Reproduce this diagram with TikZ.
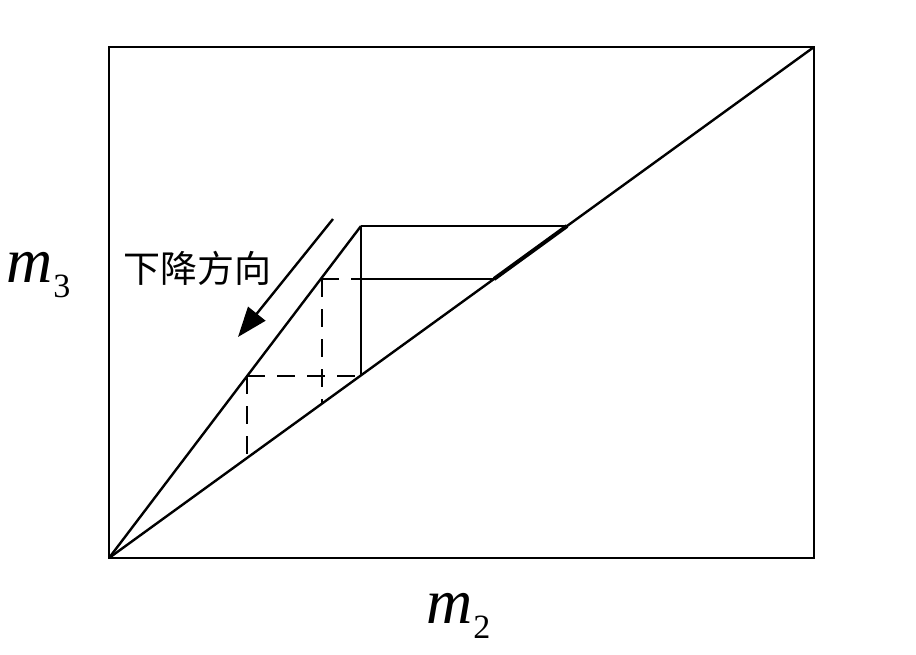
\documentclass[tikz,border=0pt]{standalone}
\usepackage{fontspec}
\setmainfont{Liberation Serif}
\newfontfamily\cjk{Noto Sans CJK SC}
\usetikzlibrary{arrows.meta}
\newcommand{\msub}[1]{{\fontsize{64}{64}\selectfont\itshape m}\kern1pt\raisebox{-15pt}{\fontsize{34}{34}\selectfont #1}}
\begin{document}
\begin{tikzpicture}[x=1pt,y=-1pt,
  frame/.style={line width=2.6pt},
  solid line/.style={line width=2.4pt},
  thin line/.style={line width=1.2pt},
  dash line/.style={line width=2.4pt, dash pattern=on 18pt off 12pt},
  lbl/.style={inner sep=0pt, anchor=base west}]
\useasboundingbox (0,0) rectangle (916,654);
% points
\coordinate (O) at (109,558);
\coordinate (TL) at (109,47);
\coordinate (TR) at (814,47);
\coordinate (BR) at (814,558);
\coordinate (A) at (361,226);   % apex of steep line
\coordinate (B) at (567,226);   % top line meets diagonal
\coordinate (C) at (361,375);   % vertical meets diagonal
\coordinate (D) at (321,279);   % steep line at y=279
\coordinate (E) at (494,279);   % diagonal at y=279
\coordinate (F) at (322,404);   % diagonal at x=322
\coordinate (G) at (247,376);   % steep line at y=376
\coordinate (H) at (247,458);   % diagonal at x=247
\coordinate (P) at (361,279);
\coordinate (Q) at (322,279);
\coordinate (S) at (361,376);
\coordinate (ArrS) at (333,219);
\coordinate (ArrE) at (238,337);
% frame and lines
\draw[frame] (TL) rectangle (BR);
\draw[solid line] (O) -- (TR);
\draw[solid line] (O) -- (A);
\draw[solid line] (A) -- (B);
\draw[solid line] (A) -- (C);
\draw[line width=4pt] (E) -- (B);
\draw[thin line] (P) -- (E);
\draw[dash line] (D) -- (P);
\draw[dash line] (Q) -- (F);
\draw[dash line] (G) -- (S);
\draw[dash line] (G) -- (H);
\draw[line width=2.4pt, -{Triangle[length=30pt,width=22pt]}] (ArrS) -- (ArrE);
% labels
\node[lbl] (dir) at (123,282) {\fontsize{37}{40}\selectfont\cjk 下降方向};
\node[lbl] (m3) at (6,282) {\msub{3}};
\node[lbl] (m2) at (426,623) {\msub{2}};
\end{tikzpicture}
\end{document}
